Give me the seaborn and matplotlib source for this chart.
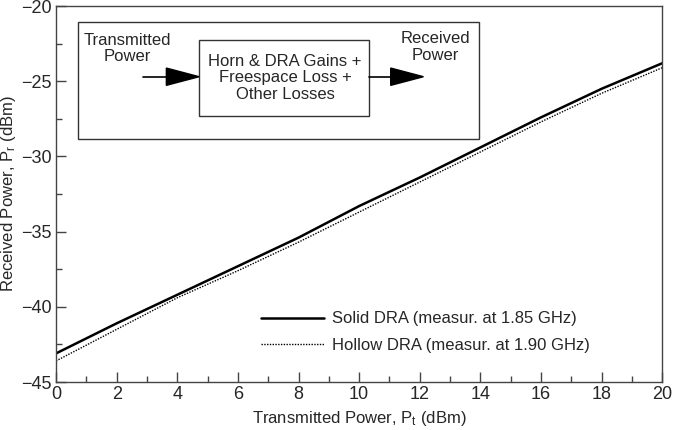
import matplotlib
matplotlib.use("Agg")
import matplotlib.pyplot as plt
from matplotlib.patches import Rectangle
from matplotlib.lines import Line2D
from matplotlib.ticker import MultipleLocator
import seaborn as sns
import pandas as pd

# -------------------------------
# Data
# -------------------------------
tx_power = [0, 2, 4, 6, 8, 10, 12, 14, 16, 18, 20]
solid_dra = [-43.1, -41.1, -39.2, -37.3, -35.4, -33.3, -31.4, -29.4, -27.4, -25.5, -23.8]
hollow_dra = [-43.6, -41.5, -39.4, -37.6, -35.7, -33.7, -31.7, -29.7, -27.7, -25.8, -24.1]
labels = ["Solid DRA (measur. at 1.85 GHz)", "Hollow DRA (measur. at 1.90 GHz)"]

df = pd.DataFrame({"Pt": tx_power * 2,
                   "Pr": solid_dra + hollow_dra,
                   "series": [labels[0]] * len(tx_power) + [labels[1]] * len(tx_power)})

# -------------------------------
# Style
# -------------------------------
sns.set_style("ticks")
plt.rcParams['font.family'] = ['Liberation Sans', 'DejaVu Sans']
plt.rcParams['mathtext.default'] = 'regular'
fs = 12
tick_fs = 13

fig = plt.figure(figsize=(6.73, 4.3), dpi=100)
ax = fig.add_axes([0.0832, 0.1116, 0.901, 0.8744])

sns.lineplot(data=df, x="Pt", y="Pr", hue="series", style="series",
             palette=["black", "black"], dashes=[(None, None), (1, 1)],
             ax=ax, legend=False)
ax.lines[0].set_linewidth(1.8)
ax.lines[1].set_linewidth(1.0)
ax.lines[1].set_linestyle((0, (1, 1)))

ax.set_xlim(0, 20)
ax.set_ylim(-45, -20)
ax.xaxis.set_major_locator(MultipleLocator(2))
ax.xaxis.set_minor_locator(MultipleLocator(1))
ax.yaxis.set_major_locator(MultipleLocator(5))
ax.yaxis.set_minor_locator(MultipleLocator(2.5))
ax.tick_params(which="both", direction="in", top=False, right=False,
               color="#444444", labelsize=tick_fs, pad=3)
ax.tick_params(which="major", length=7, width=1)
ax.tick_params(which="minor", length=4, width=1)
for s in ax.spines.values():
    s.set_color("#444444")
    s.set_linewidth(1.0)
    s.set_visible(True)

ax.set_xlabel("Transmitted Power, P$_t$ (dBm)", fontsize=fs, labelpad=4)
ax.set_ylabel("Received Power, P$_r$ (dBm)", fontsize=fs, labelpad=2)

# legend
handles = [Line2D([], [], color="black", lw=1.8),
           Line2D([], [], color="black", lw=1.0, ls=(0, (1, 1)))]
ax.legend(handles, labels, loc="lower left", bbox_to_anchor=(0.338, 0.078),
          frameon=False, fontsize=fs, handlelength=3.8, handletextpad=0.48,
          labelspacing=0.68, borderpad=0, borderaxespad=0)

# -------------------------------
# Block diagram inset
# -------------------------------
ax.add_patch(Rectangle((0.036, 0.646), 0.662, 0.311, transform=ax.transAxes,
                       fill=False, edgecolor="#333333", lw=1.0))
ax.add_patch(Rectangle((0.236, 0.707), 0.280, 0.203, transform=ax.transAxes,
                       fill=False, edgecolor="#333333", lw=1.0))
ax.text(0.117, 0.888, "Transmitted\nPower", transform=ax.transAxes,
        ha="center", va="center", fontsize=fs, linespacing=1.1)
ax.text(0.378, 0.809, "Horn & DRA Gains +\nFreespace Loss +\nOther Losses",
        transform=ax.transAxes, ha="center", va="center", fontsize=fs,
        linespacing=1.1)
ax.text(0.626, 0.891, "Received\nPower", transform=ax.transAxes,
        ha="center", va="center", fontsize=fs, linespacing=1.1)

# arrows
for x0, x1 in [(0.143, 0.236), (0.516, 0.606)]:
    ax.plot([x0, x1 - 0.05], [0.812, 0.812], transform=ax.transAxes,
            color="black", lw=1.2)
    ax.fill([x1 - 0.054, x1, x1 - 0.054], [0.835, 0.812, 0.789],
            transform=ax.transAxes, color="black")

fig.savefig("out.png", dpi=100)
